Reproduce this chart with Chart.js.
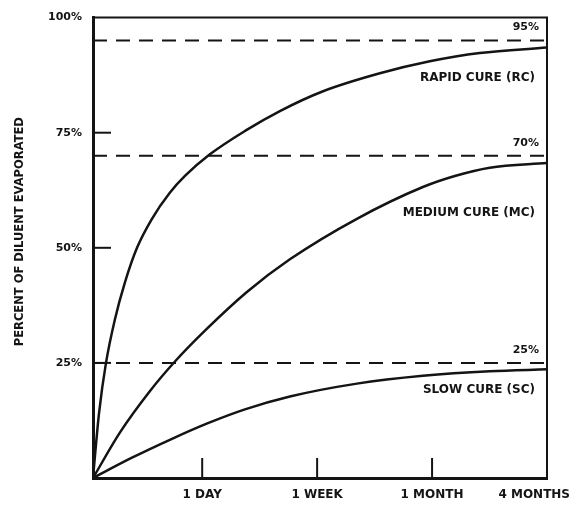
<!DOCTYPE html>
<html>
<head>
<meta charset="utf-8">
<script src="https://cdn.jsdelivr.net/npm/chart.js@4.4.1/dist/chart.umd.min.js"></script>
<style>
  body { margin: 0; background: #fff; }
</style>
</head>
<body>
<canvas id="cureChart" width="574" height="506"></canvas>
<script>
// x axis is a stretched time scale, one unit per labelled interval
const xTickValues = [1, 2, 3, 4];
const xTickLabels = ['1 DAY', '1 WEEK', '1 MONTH', '4 MONTHS'];
const yTickValues = [25, 50, 75, 100];

// rapid cure
const rcX = [0.05, 0.102, 0.163, 0.241, 0.328, 0.433, 0.563, 0.72, 0.85, 1.067, 1.38, 1.676, 2.041, 2.546, 2.98, 3.415, 4];
const rcY = [0, 14, 25, 34.5, 42.5, 50, 56.3, 62, 65.6, 70.3, 75.5, 79.7, 83.9, 87.9, 90.5, 92.3, 93.5];
// medium cure
const mcX = [0.05, 0.285, 0.546, 0.763, 1.024, 1.389, 1.763, 2.346, 2.92, 3.198, 3.502, 4];
const mcY = [0, 9.9, 18.9, 25.3, 32, 40.4, 47.5, 56.3, 63.2, 65.6, 67.4, 68.4];
// slow cure
const scX = [0.05, 0.389, 0.728, 1.05, 1.372, 1.763, 2.346, 2.92, 3.502, 4];
const scY = [0, 4.4, 8.4, 11.9, 14.9, 17.7, 20.5, 22.2, 23.2, 23.6];

// final evaporation limits
const limitValues = [95, 70, 25];
const limitLabels = ['95%', '70%', '25%'];
const curveLabels = ['RAPID CURE (RC)', 'MEDIUM CURE (MC)', 'SLOW CURE (SC)'];
const curveLabelAt = [86.8, 57.5, 19.2];

const ink = '#141414';
const boldFont = '"DejaVu Sans", sans-serif';

const toPoints = (xs, ys) => xs.map((x, i) => ({ x, y: ys[i] }));

const curve = (label, xs, ys) => ({
    label,
    data: toPoints(xs, ys),
    borderColor: ink,
    borderWidth: 2.5,
    pointRadius: 0,
    cubicInterpolationMode: 'monotone',
    fill: false
});

const limitLine = (v) => ({
    label: v + '%',
    data: [{ x: 0.05, y: v }, { x: 4, y: v }],
    borderColor: ink,
    borderWidth: 2,
    borderDash: [14, 9],
    pointRadius: 0,
    fill: false
});

// frame, inward ticks and all the free text
const decorations = {
    id: 'decorations',
    afterDatasetsDraw(chart) {
        const { ctx, chartArea: a, scales: { x, y } } = chart;
        ctx.save();
        ctx.strokeStyle = ink;
        ctx.fillStyle = ink;

        ctx.lineWidth = 2;
        ctx.beginPath();
        ctx.moveTo(a.left, a.top);
        ctx.lineTo(a.right, a.top);
        ctx.lineTo(a.right, a.bottom);
        ctx.stroke();

        yTickValues.filter(v => v < 100).forEach(v => {
            const py = y.getPixelForValue(v);
            ctx.beginPath();
            ctx.moveTo(a.left, py);
            ctx.lineTo(a.left + 18, py);
            ctx.stroke();
        });
        xTickValues.filter(v => v < 4).forEach(v => {
            const px = x.getPixelForValue(v);
            ctx.beginPath();
            ctx.moveTo(px, a.bottom);
            ctx.lineTo(px, a.bottom - 20);
            ctx.stroke();
        });

        ctx.font = 'bold 12px ' + boldFont;
        ctx.textBaseline = 'middle';
        ctx.textAlign = 'center';
        xTickValues.forEach((v, i) => {
            const w = ctx.measureText(xTickLabels[i]).width;
            const px = Math.min(x.getPixelForValue(v), chart.width - 4 - w / 2);
            ctx.fillText(xTickLabels[i], px, a.bottom + 17);
        });

        ctx.textAlign = 'right';
        curveLabels.forEach((t, i) => {
            ctx.fillText(t, a.right - 12, y.getPixelForValue(curveLabelAt[i]));
        });
        ctx.font = 'bold 11px ' + boldFont;
        limitValues.forEach((v, i) => {
            ctx.fillText(limitLabels[i], a.right - 8, y.getPixelForValue(v) - 13);
        });

        ctx.font = 'bold 11.5px ' + boldFont;
        ctx.textAlign = 'center';
        ctx.translate(20, y.getPixelForValue(53.5));
        ctx.rotate(-Math.PI / 2);
        ctx.fillText('PERCENT OF DILUENT EVAPORATED', 0, 0);
        ctx.restore();
    }
};

new Chart(document.getElementById('cureChart'), {
    type: 'line',
    data: {
        datasets: [
            curve('Rapid cure (RC)', rcX, rcY),
            curve('Medium cure (MC)', mcX, mcY),
            curve('Slow cure (SC)', scX, scY),
            ...limitValues.map(limitLine)
        ]
    },
    options: {
        responsive: false,
        animation: false,
        layout: { padding: { top: 15, right: 27, left: 0, bottom: 0 } },
        plugins: { legend: { display: false }, tooltip: { enabled: false } },
        scales: {
            x: {
                type: 'linear',
                min: 0.05,
                max: 4,
                grid: { display: false, drawTicks: false },
                ticks: { display: false },
                border: { display: true, color: ink, width: 3 },
                afterFit: (s) => { s.height = 28; }
            },
            y: {
                min: 0,
                max: 100,
                grid: { display: false, drawTicks: false },
                border: { display: true, color: ink, width: 3 },
                afterBuildTicks: (s) => { s.ticks = yTickValues.map(v => ({ value: v })); },
                ticks: {
                    color: ink,
                    padding: 11,
                    font: { family: boldFont, size: 11, weight: 'bold' },
                    callback: (v) => v + '%'
                },
                afterFit: (s) => { s.width = 93; }
            }
        }
    },
    plugins: [decorations]
});
</script>
</body>
</html>
